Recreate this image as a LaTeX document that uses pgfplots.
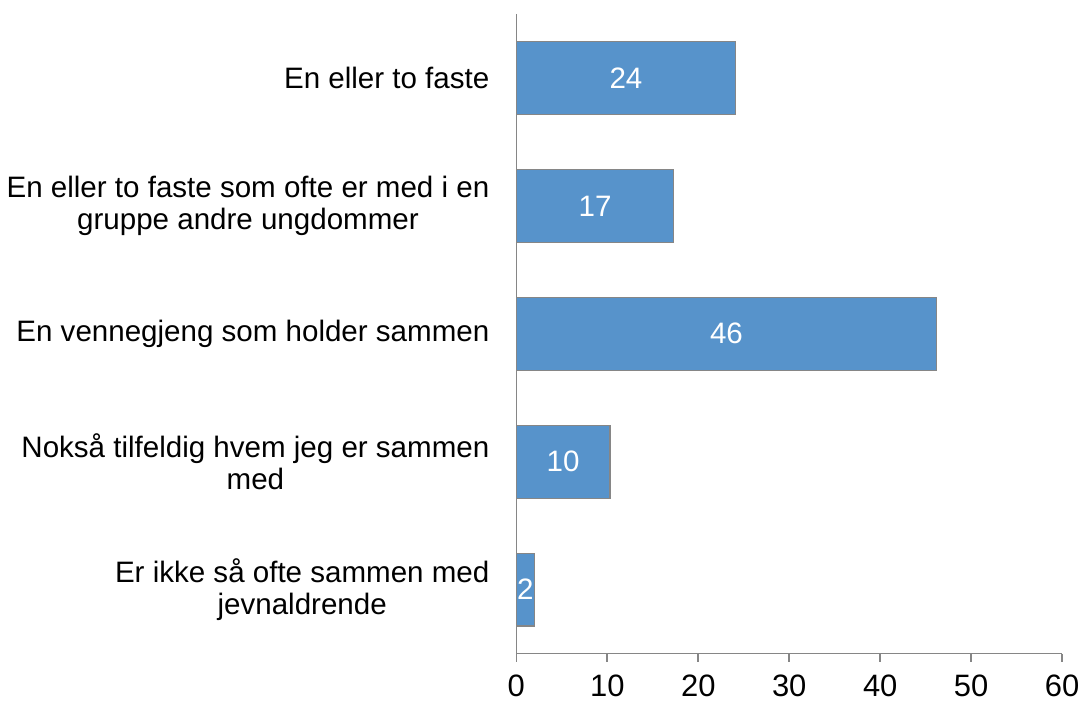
\documentclass[border=0pt]{standalone}
\usepackage{pgfplots}
\pgfplotsset{compat=1.18}
\usepackage{fontspec}
\setmainfont{Liberation Sans}
\definecolor{barblue}{HTML}{5793CB}
\definecolor{axgray}{HTML}{868686}
\begin{document}
\begin{tikzpicture}
\begin{axis}[
  name=ax,
  scale only axis,
  width=273.5pt, height=320.5pt,
  xmin=0, xmax=60,
  ymin=-0.5, ymax=4.5,
  y dir=reverse,
  axis x line*=bottom,
  axis y line*=left,
  axis line style={axgray, line width=0.8pt, -},
  xtick={0,10,...,60},
  xtick style={axgray, line width=0.8pt},
  tick align=outside,
  major tick length=4pt,
  ytick={0,1,2,3,4},
  ytick style={draw=none},
  yticklabels={En eller to faste,
    {En eller to faste som ofte er med i en\\gruppe andre ungdommer},
    En vennegjeng som holder sammen,
    {Nokså tilfeldig hvem jeg er sammen\\med},
    {Er ikke så ofte sammen med\\jevnaldrende}},
  yticklabel style={align=center, font=\fontsize{14.8}{16.5}\selectfont, xshift=-6pt},
  xticklabel style={font=\fontsize{15.5}{17}\selectfont, yshift=-3pt},
  /pgf/number format/assume math mode=true,
  clip=false,
]
\addplot[xbar, bar width=36.5pt, fill=barblue, draw=axgray, line width=0.6pt,
  nodes near coords={\pgfmathprintnumber[fixed,precision=0]{\pgfplotspointmeta}},
  visualization depends on=rawx \as \rawx,
  every node near coord/.append style={white, anchor=center, font=\fontsize{14.8}{17}\selectfont,
    shift={(axis direction cs:-\rawx/2,0)}},
] coordinates {
  (24.1,0) (17.3,1) (46.2,2) (10.3,3) (1.97,4)
};
\end{axis}
\path[use as bounding box] (ax.north west) ++(-258.5pt,7pt) rectangle ++(543pt,-351pt);
\end{tikzpicture}
\end{document}
